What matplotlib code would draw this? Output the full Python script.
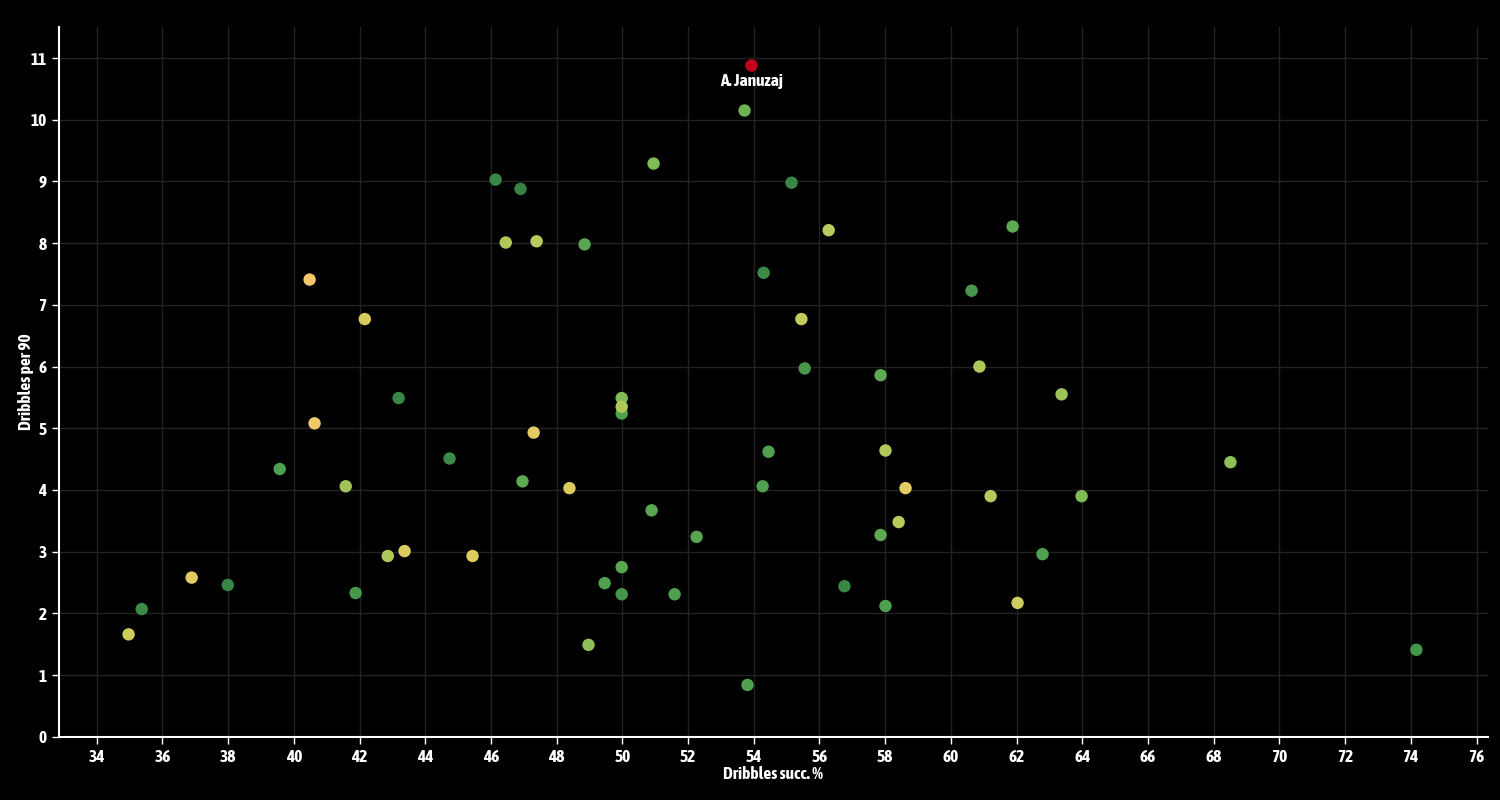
import matplotlib
matplotlib.use('Agg')
import numpy as np
import matplotlib.pyplot as plt
from matplotlib import font_manager
from matplotlib.colors import LinearSegmentedColormap

# pick a condensed face that has a bold weight, else Roboto
bold_narrow = sorted({f.name for f in font_manager.fontManager.ttflist
                      if ('Narrow' in f.name or 'Condensed' in f.name
                          or f.stretch in ('condensed', 'semi-condensed'))
                      and f.weight in ('bold', 700, 'semibold', 600)})
family = bold_narrow[0] if bold_narrow else 'Roboto'
plt.rcParams['font.family'] = [family, 'DejaVu Sans']
plt.rcParams['font.weight'] = 'bold'

# dribble success %, dribbles per 90, colour metric (0 = yellow, 1 = dark green)
succ_pct = [53.72, 50.95, 46.14, 46.90, 55.15, 56.28, 61.88, 46.45, 47.39, 48.85,
            54.30, 40.48, 60.63, 42.16, 55.45, 60.87, 55.55, 57.86, 63.37, 43.19,
            49.98, 49.98, 49.98, 40.63, 47.30, 39.57, 44.74, 54.45, 58.01, 68.51,
            41.58, 46.96, 48.39, 54.27, 58.62, 61.21, 63.98, 50.89, 58.41, 52.26,
            57.86, 62.79, 42.86, 43.37, 45.44, 36.89, 37.99, 49.98, 49.46, 56.76,
            41.88, 49.98, 51.59, 58.01, 62.03, 35.37, 34.97, 48.97, 53.81, 74.17]
per_90 = [10.15, 9.29, 9.03, 8.88, 8.98, 8.21, 8.27, 8.01, 8.03, 7.98,
          7.52, 7.41, 7.23, 6.77, 6.77, 6.00, 5.97, 5.86, 5.55, 5.49,
          5.49, 5.24, 5.35, 5.08, 4.93, 4.34, 4.51, 4.62, 4.64, 4.45,
          4.06, 4.14, 4.03, 4.06, 4.03, 3.90, 3.90, 3.67, 3.48, 3.24,
          3.27, 2.96, 2.93, 3.01, 2.93, 2.58, 2.46, 2.75, 2.49, 2.44,
          2.33, 2.31, 2.31, 2.12, 2.17, 2.07, 1.66, 1.49, 0.84, 1.41]
shade = [0.65, 0.60, 0.90, 0.92, 0.90, 0.40, 0.70, 0.45, 0.40, 0.72,
         0.88, 0.00, 0.80, 0.25, 0.35, 0.45, 0.80, 0.70, 0.50, 0.90,
         0.60, 0.75, 0.45, 0.02, 0.15, 0.75, 0.88, 0.75, 0.45, 0.55,
         0.50, 0.70, 0.20, 0.75, 0.15, 0.40, 0.60, 0.72, 0.40, 0.72,
         0.70, 0.75, 0.45, 0.20, 0.22, 0.15, 0.90, 0.72, 0.75, 0.90,
         0.80, 0.82, 0.75, 0.75, 0.30, 0.88, 0.30, 0.55, 0.75, 0.82]

hl_name = 'A. Januzaj'
hl_x = 53.93
hl_y = 10.88

cmap = LinearSegmentedColormap.from_list(
    'ylgn', [(0.0, '#f5c86a'), (0.25, '#d6cd5d'), (0.45, '#b0c85a'),
             (0.6, '#7fbb56'), (0.75, '#4fa14f'), (1.0, '#2a763d')])

fig = plt.figure(figsize=(15, 8), dpi=100, facecolor='black')
ax = fig.add_axes([0.0393, 0.079, 0.9527, 0.887])
ax.set_facecolor('black')

ax.scatter(succ_pct, per_90, c=shade, cmap=cmap, vmin=0, vmax=1,
           s=80, linewidths=0, zorder=3)
ax.scatter([hl_x], [hl_y], color='#c4001c', s=80, linewidths=0, zorder=4)
ax.annotate(hl_name, (hl_x, hl_y), xytext=(0, -11), textcoords='offset points',
            ha='center', va='center', color='white', fontsize=12.5, fontweight='bold')

ax.set_xlim(32.85, 76.35)
ax.set_ylim(0, 11.5)
ax.set_xticks(np.arange(34, 77, 2))
ax.set_yticks(np.arange(0, 12, 1))
ax.grid(True, color='#222222', linewidth=1, zorder=0)
ax.set_axisbelow(True)

for side in ['top', 'right']:
    ax.spines[side].set_visible(False)
for side in ['left', 'bottom']:
    ax.spines[side].set_color('white')
    ax.spines[side].set_linewidth(1.5)

ax.tick_params(colors='white', labelsize=12.5, length=5, width=1, pad=4)
for lab in ax.get_xticklabels() + ax.get_yticklabels():
    lab.set_fontweight('bold')

ax.set_xlabel('Dribbles succ. %', color='white', fontsize=12.5, fontweight='bold')
ax.set_ylabel('Dribbles per 90', color='white', fontsize=12.5, fontweight='bold')
ax.xaxis.set_label_coords(0.5, -0.041)
ax.yaxis.set_label_coords(-0.0175, 0.5)

fig.savefig('out.png', dpi=100, facecolor='black')
